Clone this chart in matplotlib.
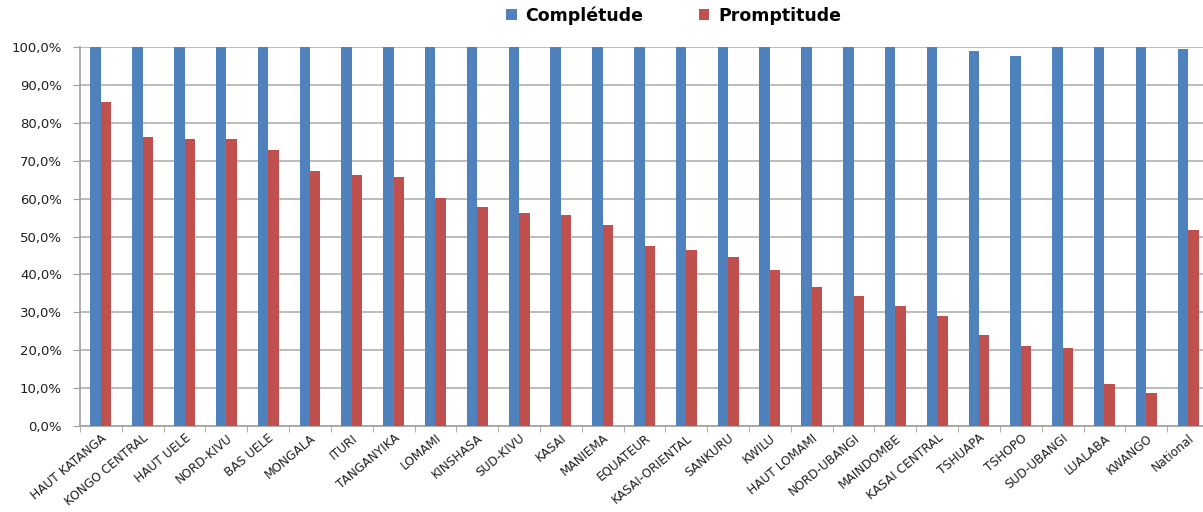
import numpy as np
import matplotlib.pyplot as plt
from matplotlib.ticker import FuncFormatter

provinces = ["HAUT KATANGA", "KONGO CENTRAL", "HAUT UELE", "NORD-KIVU", "BAS UELE",
             "MONGALA", "ITURI", "TANGANYIKA", "LOMAMI", "KINSHASA", "SUD-KIVU",
             "KASAI", "MANIEMA", "EQUATEUR", "KASAI-ORIENTAL", "SANKURU", "KWILU",
             "HAUT LOMAMI", "NORD-UBANGI", "MAINDOMBE", "KASAI CENTRAL", "TSHUAPA",
             "TSHOPO", "SUD-UBANGI", "LUALABA", "KWANGO", "National"]

completude = [100, 100, 100, 100, 100, 100, 100, 100, 100, 100, 100, 100, 100, 100,
              100, 100, 100, 100, 100, 100, 100, 98.9, 97.6, 100, 100, 100, 99.5]

promptitude = [85.5, 76.3, 75.8, 75.8, 72.8, 67.3, 66.3, 65.7, 60.2, 57.8, 56.2,
               55.6, 53.0, 47.6, 46.5, 44.6, 41.2, 36.8, 34.4, 31.7, 29.0, 24.1,
               21.0, 20.7, 11.2, 8.8, 51.6]

plt.rcParams['font.family'] = ['DejaVu Sans']

fig = plt.figure(figsize=(12.03, 5.12), dpi=100)
# l'axe deborde un peu a droite, comme sur l'original
ax = fig.add_axes([0.0665, 0.168, 0.9385, 0.74])

x = np.arange(len(provinces))
w = 0.25
ax.bar(x - w / 2, completude, w, color='#4F81BD', label='Complétude', zorder=3)
ax.bar(x + w / 2, promptitude, w, color='#C0504D', label='Promptitude', zorder=3)

ax.set_ylim(0, 100)
ax.set_xlim(-0.5, len(provinces) - 0.5)
ax.set_yticks(np.arange(0, 101, 10))
ax.yaxis.set_major_formatter(FuncFormatter(lambda v, p: f"{v:.1f}%".replace('.', ',')))
ax.grid(axis='y', color='#B0B0B0', linewidth=1.2, zorder=0)

ax.set_xticks(x)
ax.set_xticklabels(provinces, rotation=40, ha='right', rotation_mode='anchor',
                   fontsize=8.7, color='#202020')
ax.tick_params(axis='x', length=0, pad=4)
ax.set_xticks(np.arange(-0.5, len(provinces), 1), minor=True)
ax.tick_params(axis='x', which='minor', length=4, color='#A0A0A0')
ax.tick_params(axis='y', labelsize=9.5, length=5, color='#A0A0A0', pad=8,
               labelcolor='#202020')

for s in ['top', 'right']:
    ax.spines[s].set_visible(False)
for s in ['left', 'bottom']:
    ax.spines[s].set_color('#A0A0A0')
    ax.spines[s].set_linewidth(1.2)

fig.legend(loc='upper center', bbox_to_anchor=(0.56, 1.018), ncol=2, frameon=False,
           prop={'weight': 'bold', 'size': 12.5}, handlelength=0.6, handleheight=0.6,
           columnspacing=3.2, handletextpad=0.5)

fig.savefig('out.png', dpi=100)
